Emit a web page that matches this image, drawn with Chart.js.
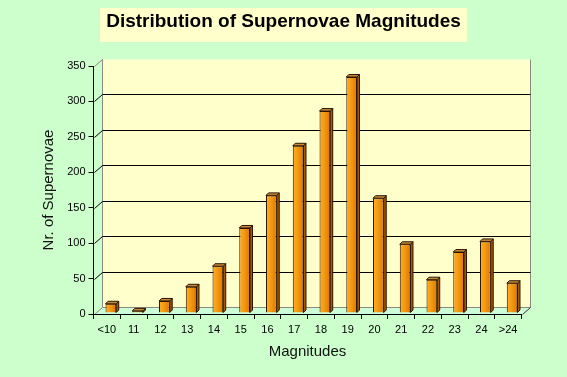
<!DOCTYPE html>
<html>
<head>
<meta charset="utf-8">
<script src="https://cdn.jsdelivr.net/npm/chart.js@4.4.1/dist/chart.umd.min.js"></script>
<style>
  html, body { margin: 0; padding: 0; background: #CCFFCC; }
  #wrap { width: 567px; height: 377px; }
</style>
</head>
<body>
<div id="wrap"><canvas id="c" width="567" height="377"></canvas></div>
<script>
// ---- data ----
const categories = ['<10', '11', '12', '13', '14', '15', '16', '17', '18', '19', '20', '21', '22', '23', '24', '>24'];
const counts = [13, 3, 17, 37, 66, 120, 166, 236, 285, 333, 162, 97, 47, 86, 101, 42];
const yTicks = [0, 50, 100, 150, 200, 250, 300, 350];
const titleText = 'Distribution of Supernovae Magnitudes';
const xTitle = 'Magnitudes';
const yTitle = 'Nr. of Supernovae';

const FONT = "'Liberation Sans', Arial, sans-serif";
const TITLE_SIZE = 19;
const DX = 8, DY = -7;       // depth offset of the 3D back wall
const BX = 4, BY = -1;       // bar offset (mid depth)

const scene3d = {
  id: 'scene3d',
  beforeDraw(chart) {
    const ctx = chart.ctx;
    const a = chart.chartArea;
    const ys = chart.scales.y;
    ctx.save();
    ctx.fillStyle = '#CCFFCC';
    ctx.fillRect(0, 0, chart.width, chart.height);

    // title box
    const tb = chart.titleBlock;
    ctx.font = 'bold ' + TITLE_SIZE + 'px ' + FONT;
    const tw = ctx.measureText(titleText).width;
    const cx = (tb.left + tb.right) / 2;
    ctx.fillStyle = '#FFFFCC';
    ctx.fillRect(Math.round(cx - tw / 2 - 6), 8, Math.round(tw + 12), 34);

    const L = Math.round(a.left) + 0.5, R = Math.round(a.right) + 0.5;
    const T = Math.round(a.top) + 0.5, B = Math.round(a.bottom) + 0.5;

    // back wall
    ctx.fillStyle = '#FFFFCC';
    ctx.fillRect(L + DX, T + DY, R - L, B - T);
    // floor
    ctx.fillStyle = '#CCFFD8';
    ctx.beginPath();
    ctx.moveTo(L, B); ctx.lineTo(R, B); ctx.lineTo(R + DX, B + DY); ctx.lineTo(L + DX, B + DY); ctx.closePath();
    ctx.fill();

    ctx.lineWidth = 1;
    // wall outlines (grey)
    ctx.strokeStyle = '#8a8a80';
    ctx.beginPath();
    ctx.moveTo(L + DX, T + DY); ctx.lineTo(L + DX, B + DY); ctx.lineTo(R + DX, B + DY); ctx.lineTo(R + DX, T + DY);
    ctx.moveTo(L, T); ctx.lineTo(L + DX, T + DY);
    ctx.moveTo(L, B); ctx.lineTo(L + DX, B + DY);
    ctx.stroke();
    // right floor corner
    ctx.strokeStyle = '#333';
    ctx.beginPath();
    ctx.moveTo(R, B); ctx.lineTo(R + DX, B + DY);
    ctx.stroke();

    // gridlines on back wall and diagonals on the side wall
    ctx.strokeStyle = '#000';
    yTicks.forEach(v => {
      if (v === 0 || v === 350) return;
      const y = Math.round(ys.getPixelForValue(v)) + 0.5;
      ctx.beginPath();
      ctx.moveTo(L, y); ctx.lineTo(L + DX, y + DY);
      ctx.lineTo(R + DX, y + DY);
      ctx.stroke();
    });
    ctx.restore();
  },
  beforeDatasetsDraw(chart) {
    chart.ctx.save();
    chart.ctx.translate(BX, BY);
  },
  afterDatasetsDraw(chart) {
    const ctx = chart.ctx;
    const meta = chart.getDatasetMeta(0);
    meta.data.forEach(el => {
      const l = el.x - el.width / 2, r = el.x + el.width / 2;
      const t = el.y, b = el.base;
      const sx = 2.5, sy = -2.5;
      ctx.lineWidth = 1;
      ctx.strokeStyle = '#2a1400';
      // side face
      ctx.fillStyle = '#A85800';
      ctx.beginPath();
      ctx.moveTo(r, t); ctx.lineTo(r + sx, t + sy); ctx.lineTo(r + sx, b + sy); ctx.lineTo(r, b); ctx.closePath();
      ctx.fill(); ctx.stroke();
      // top face
      ctx.fillStyle = '#C98A3A';
      ctx.beginPath();
      ctx.moveTo(l, t); ctx.lineTo(r, t); ctx.lineTo(r + sx, t + sy); ctx.lineTo(l + sx, t + sy); ctx.closePath();
      ctx.fill(); ctx.stroke();
    });
    ctx.restore();
  }
};

function barGradient(c) {
  const ch = c.chart;
  const xs = ch.scales && ch.scales.x;
  if (!xs || !ch.chartArea) return '#F39200';
  const cx = xs.getPixelForValue(c.dataIndex);
  const g = ch.ctx.createLinearGradient(cx - 6, 0, cx + 6, 0);
  g.addColorStop(0, '#FFB030');
  g.addColorStop(0.45, '#F59A10');
  g.addColorStop(1, '#D87400');
  return g;
}

new Chart(document.getElementById('c'), {
  type: 'bar',
  data: {
    labels: categories,
    datasets: [{
      data: counts,
      backgroundColor: barGradient,
      borderColor: '#2a1400',
      borderWidth: 1,
      barPercentage: 0.4,
      categoryPercentage: 1.0
    }]
  },
  options: {
    responsive: false,
    animation: false,
    devicePixelRatio: 1,
    layout: { padding: 0 },
    plugins: {
      legend: { display: false },
      tooltip: { enabled: false },
      title: {
        display: true,
        text: titleText,
        color: '#000',
        font: { family: FONT, size: TITLE_SIZE, weight: 'bold' },
        padding: { top: 10.6, bottom: 32.6 }
      }
    },
    scales: {
      x: {
        afterFit(s) { s.height = 63; },
        grid: { drawOnChartArea: false, drawTicks: true, tickLength: 5, color: '#000', offset: true },
        border: { display: true, color: '#000' },
        ticks: { color: '#000', font: { family: FONT, size: 11 }, padding: 4, maxRotation: 0, autoSkip: false },
        title: {
          display: true, text: xTitle, color: '#111',
          font: { family: FONT, size: 15 },
          padding: { top: 0, bottom: 16 }
        }
      },
      y: {
        min: 0, max: 350,
        afterFit(s) { s.width = 93.5; },
        afterBuildTicks(s) { s.ticks = yTicks.map(v => ({ value: v })); },
        grid: { drawOnChartArea: false, drawTicks: true, tickLength: 5, color: '#000' },
        border: { display: true, color: '#000' },
        ticks: { color: '#000', font: { family: FONT, size: 11 }, padding: 3 },
        title: {
          display: true, text: yTitle, color: '#111',
          font: { family: FONT, size: 15 },
          padding: { top: 40, bottom: 0 }
        }
      },
      spacer: {
        type: 'linear',
        position: 'right',
        display: true,
        afterFit(s) { s.width = 45.5; },
        grid: { display: false, drawOnChartArea: false },
        border: { display: false },
        ticks: { display: false }
      }
    }
  },
  plugins: [scene3d]
});
</script>
</body>
</html>
